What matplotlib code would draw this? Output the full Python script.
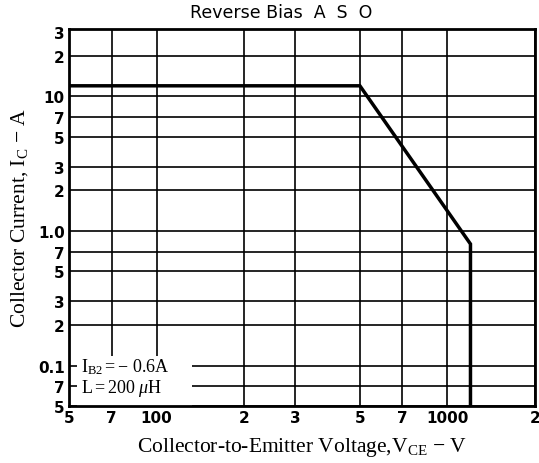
import matplotlib
matplotlib.use("Agg")
import matplotlib.pyplot as plt
from matplotlib.patches import Rectangle

# Data
x_ticks = [50, 70, 100, 200, 300, 500, 700, 1000, 2000]
x_labels = ['5', '7', '100', '2', '3', '5', '7', '1000', '2']
y_ticks = [0.05, 0.07, 0.1, 0.2, 0.3, 0.5, 0.7, 1, 2, 3, 5, 7, 10, 20, 30]
y_labels = ['5', '7', '0.1', '2', '3', '5', '7', '1.0', '2', '3', '5', '7', '10', '2', '3']
vce = [50, 500, 1200, 1200]
ic = [12, 12, 0.8, 0.05]

plt.rcParams['mathtext.fontset'] = 'custom'
plt.rcParams['mathtext.rm'] = 'Liberation Serif'
plt.rcParams['mathtext.it'] = 'Liberation Serif:italic'

fig = plt.figure(figsize=(5.39, 4.64), dpi=100)
ax_h = 377.5
ax = fig.add_axes([69/539, 57/464, 466/539, ax_h/464])
ax.set_xscale('log')
ax.set_yscale('log')
ax.set_xlim(50, 2000)
ax.set_ylim(0.05, 32)

ax.set_xticks(x_ticks)
ax.set_xticklabels(x_labels)
ax.set_yticks(y_ticks)
ax.set_yticklabels(y_labels)
ax.minorticks_off()
ax.tick_params(length=0, pad=3)
for lab in ax.get_xticklabels() + ax.get_yticklabels():
    lab.set_fontweight('bold')
    lab.set_fontsize(11)
    lab.set_family('DejaVu Sans')

ax.grid(True, color='black', linewidth=1.2, zorder=1)
ax.get_ygridlines()[-1].set_visible(False)
ax.set_axisbelow(True)
for s in ax.spines.values():
    s.set_linewidth(2)
    s.set_zorder(5)

ax.plot(vce, ic, color='black', linewidth=2.5, zorder=4, solid_joinstyle='miter')

# white box under annotation
ax.add_patch(Rectangle((8/466, 0.0), (192-77)/466, 50/ax_h, transform=ax.transAxes,
                       facecolor='white', edgecolor='none', zorder=3))
ax.text(12/466, (407-367)/ax_h, r"I$_{\rm B2}$$=-$ 0.6A", transform=ax.transAxes,
        fontsize=13, family='Liberation Serif', va='center', ha='left', zorder=4)
ax.text(12/466, (407-389)/ax_h, r"L$=$200 $\mu$H", transform=ax.transAxes,
        fontsize=13, family='Liberation Serif', va='center', ha='left', zorder=4)

fig.text(281/539, 1 - 13/464, "Reverse Bias  A  S  O", fontsize=12.5, family='DejaVu Sans',
         ha='center', va='center')
ax.set_xlabel(r"Collector-to-Emitter Voltage,V$_{\rm CE}$ $-$ V", fontsize=15.5,
              family='Liberation Serif', labelpad=7)
ax.set_ylabel(r"Collector Current, I$_{\rm C}$ $-$ A", fontsize=15.5,
              family='Liberation Serif', labelpad=6)

fig.savefig("out.png", dpi=100)
